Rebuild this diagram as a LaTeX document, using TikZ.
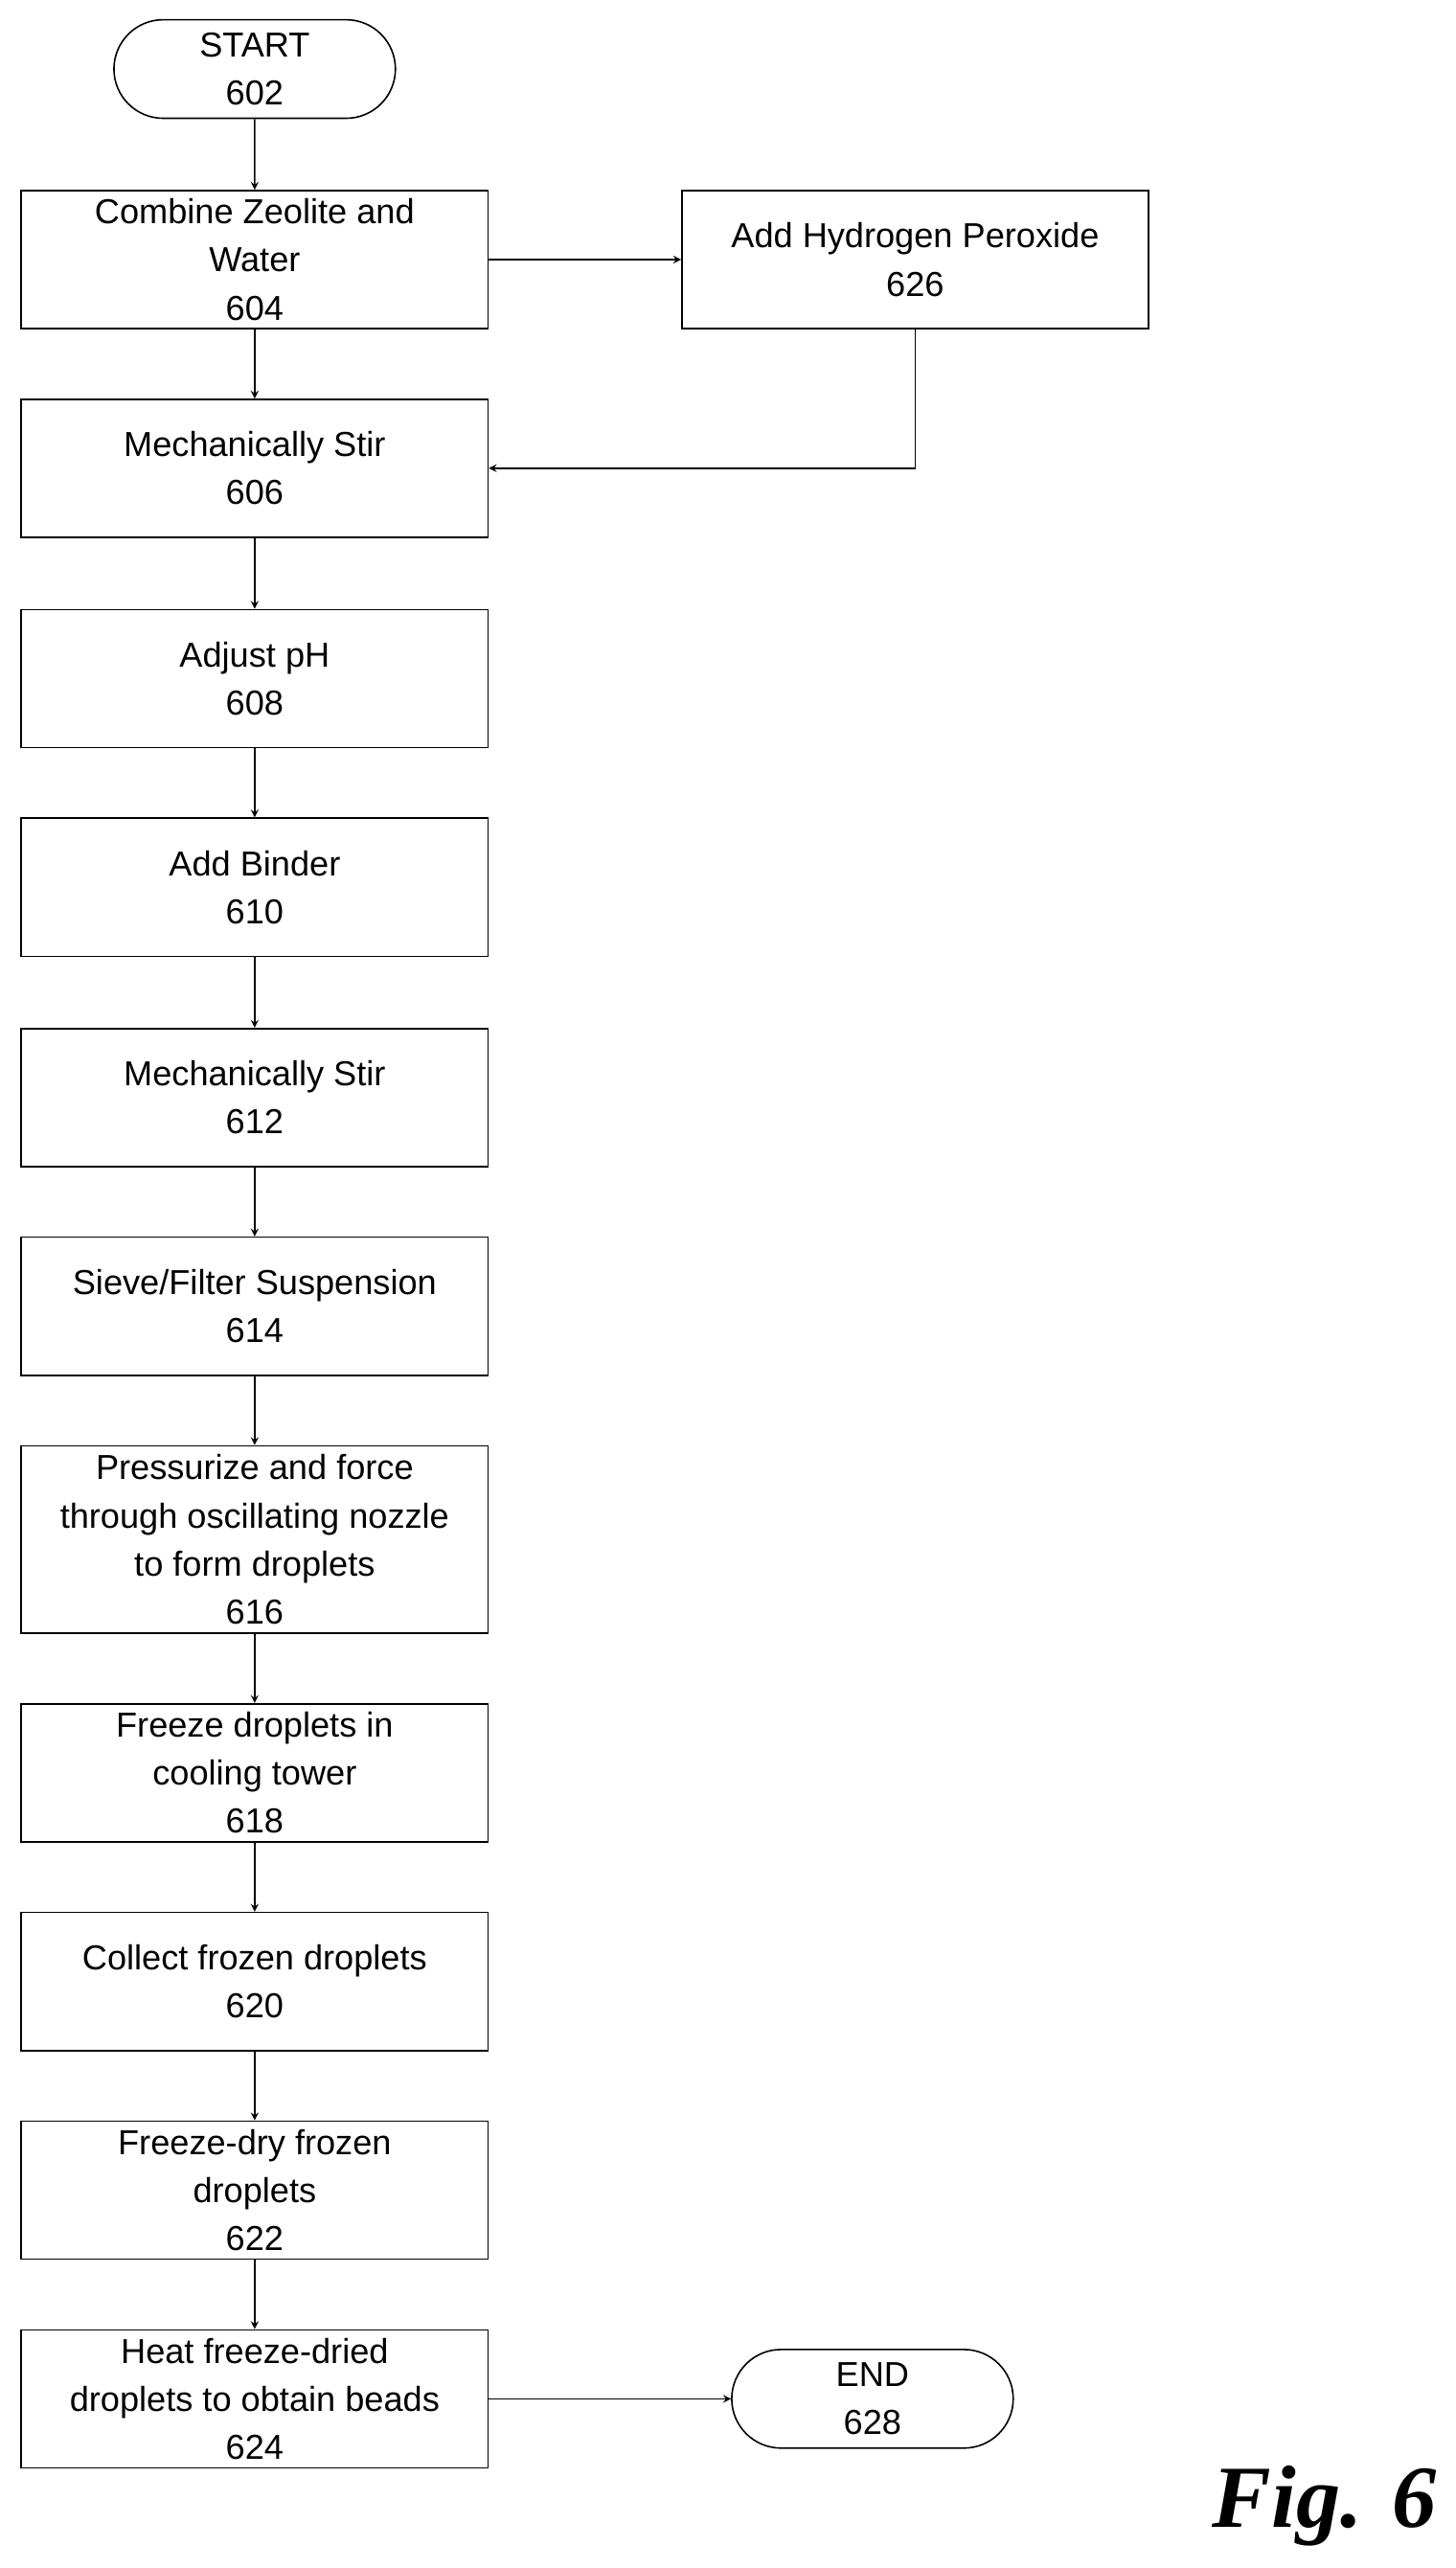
\documentclass[tikz,border=0pt]{standalone}
\usepackage{fontspec}
\setmainfont{Liberation Sans}
\newfontfamily\figfont{Liberation Serif}
\usetikzlibrary{shapes.misc}
\tikzset{
  procbox/.style={draw, thick, minimum width=284*0.03cm, minimum height=84*0.03cm,
    align=center, inner sep=2pt, font=\fontsize{18}{25}\selectfont},
  term/.style={draw, thick, rounded rectangle, minimum width=176*0.03cm,
    minimum height=60*0.03cm, align=center, inner sep=2pt,
    font=\fontsize{18}{25}\selectfont},
  flow/.style={->, thick, >=stealth}
}
\begin{document}
\begin{tikzpicture}[x=0.03cm, y=-0.03cm]
  \useasboundingbox (0,0) rectangle (886,1563);
  \node[term] (start) at (155,42) {START\\602};
  \node[procbox] (s604) at (155,158) {Combine Zeolite and\\Water\\604};
  \node[procbox] (s626) at (557,158) {Add Hydrogen Peroxide\\626};
  \node[procbox] (s606) at (155,285) {Mechanically Stir\\606};
  \node[procbox] (s608) at (155,413) {Adjust pH\\608};
  \node[procbox] (s610) at (155,540) {Add Binder\\610};
  \node[procbox] (s612) at (155,668) {Mechanically Stir\\612};
  \node[procbox] (s614) at (155,795) {Sieve/Filter Suspension\\614};
  \node[procbox, minimum height=114*0.03cm] (s616) at (155,937) {Pressurize and force\\through oscillating nozzle\\to form droplets\\616};
  \node[procbox] (s618) at (155,1079) {Freeze droplets in\\cooling tower\\618};
  \node[procbox] (s620) at (155,1206) {Collect frozen droplets\\620};
  \node[procbox] (s622) at (155,1333) {Freeze-dry frozen\\droplets\\622};
  \node[procbox] (s624) at (155,1460) {Heat freeze-dried\\droplets to obtain beads\\624};
  \node[term] (end) at (531,1460) {END\\628};
  \node[font=\figfont\bfseries\itshape\fontsize{46}{50}\selectfont] (fig) at (806,1525) {Fig. 6};

  \foreach \a/\b in {start/s604, s604/s606, s606/s608, s608/s610, s610/s612,
    s612/s614, s614/s616, s616/s618, s618/s620, s620/s622, s622/s624}
    \draw[flow] (\a) -- (\b);
  \draw[flow] (s604) -- (s626);
  \draw[flow] (s626.south) |- (s606.east);
  \draw[flow] (s624) -- (end);
\end{tikzpicture}
\end{document}
